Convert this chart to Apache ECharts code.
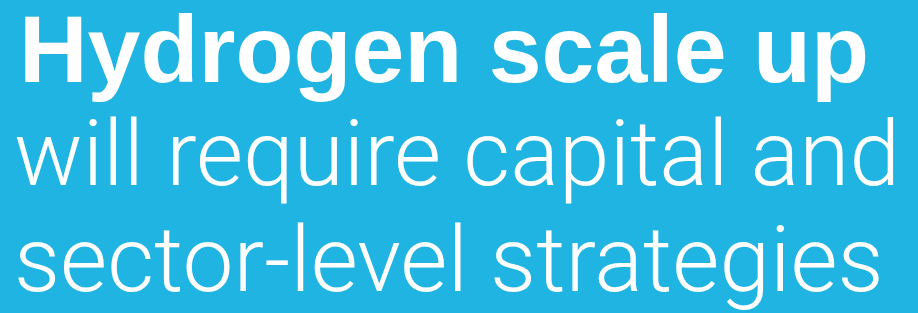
<!DOCTYPE html>
<html>
<head>
<meta charset="utf-8">
<script src="https://cdn.jsdelivr.net/npm/echarts@6/dist/echarts.min.js"></script>
<style>
  html, body { margin: 0; padding: 0; background: #20b4e2; }
  #main { width: 918px; height: 313px; }
</style>
</head>
<body>
<div id="main"></div>
<script>
// headline text, one entry per line
var boldLines = ['Hydrogen scale up'];
var lightLines = ['will require capital and', 'sector-level strategies'];

var bg = '#20b4e2';

var graphics = [];
// bold first line
boldLines.forEach(function (t, i) {
	graphics.push({
		type: 'text',
		left: 19,
		top: 8 + i * 104,
		style: {
			text: t,
			fill: '#ffffff',
			font: 'bold 95px "Liberation Sans", Arial, sans-serif'
		}
	});
});
// light lines underneath
lightLines.forEach(function (t, i) {
	graphics.push({
		type: 'text',
		left: 14,
		top: 117 + i * 106,
		style: {
			text: t,
			fill: '#ffffff',
			font: '300 91px Roboto, "Liberation Sans", sans-serif'
		}
	});
});

var option = {
	backgroundColor: bg,
	graphic: graphics
};

var myChart = echarts.init(document.getElementById('main'));
myChart.setOption(option);
</script>
</body>
</html>
